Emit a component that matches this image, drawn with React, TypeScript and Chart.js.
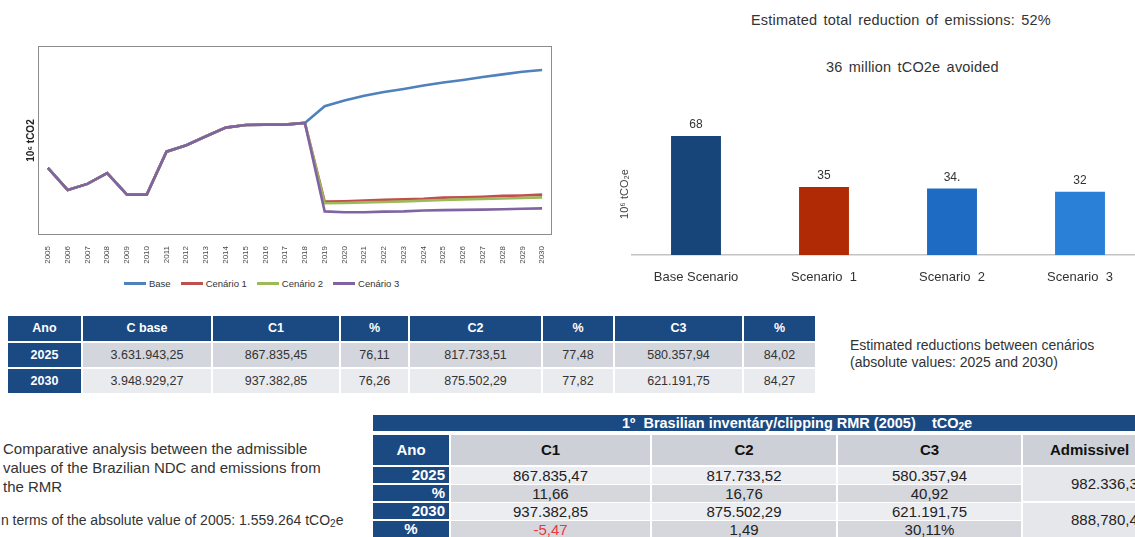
import React, { useEffect, useRef } from 'react';
import { Chart, registerables } from 'chart.js';

Chart.register(...registerables);

// ---------- Line chart data ----------
const years = [
  '2005', '2006', '2007', '2008', '2009', '2010', '2011', '2012', '2013',
  '2014', '2015', '2016', '2017', '2018', '2019', '2020', '2021', '2022',
  '2023', '2024', '2025', '2026', '2027', '2028', '2029', '2030',
];
// 2005–2018, shared by every series (10^6 tCO2)
const historical = [1.56, 1.05, 1.19, 1.44, 0.94, 0.94, 1.94, 2.09, 2.3, 2.5, 2.56, 2.57, 2.57, 2.61];
// 2019–2030
const baseProjection = [3.0, 3.13, 3.24, 3.33, 3.4, 3.48, 3.55, 3.61, 3.68, 3.74, 3.8, 3.84];
const cenario1Projection = [0.78, 0.785, 0.8, 0.82, 0.83, 0.84, 0.87, 0.88, 0.89, 0.91, 0.92, 0.94];
const cenario2Projection = [0.74, 0.745, 0.76, 0.77, 0.78, 0.8, 0.815, 0.83, 0.84, 0.85, 0.86, 0.875];
const cenario3Projection = [0.55, 0.53, 0.53, 0.545, 0.55, 0.57, 0.58, 0.585, 0.59, 0.6, 0.61, 0.62];
const lineSeriesNames = ['Base', 'Cenário 1', 'Cenário 2', 'Cenário 3'];
const lineColors = ['#4F81BD', '#C0504D', '#9BBB59', '#8064A2'];

// ---------- Bar chart data ----------
const scenarioLabels = ['Base Scenario', 'Scenario  1', 'Scenario  2', 'Scenario  3'];
const scenarioValues = [68, 35, 34, 32];
const scenarioValueLabels = ['68', '35', '34.', '32'];
const scenarioColors = ['#174479', '#B02B05', '#1E6BC3', '#2A80D6'];

// ---------- Table 1 data ----------
const table1Header = ['Ano', 'C base', 'C1', '%', 'C2', '%', 'C3', '%'];
const table1Row2025 = ['2025', '3.631.943,25', '867.835,45', '76,11', '817.733,51', '77,48', '580.357,94', '84,02'];
const table1Row2030 = ['2030', '3.948.929,27', '937.382,85', '76,26', '875.502,29', '77,82', '621.191,75', '84,27'];

// ---------- Table 2 data ----------
const table2Header = ['Ano', 'C1', 'C2', 'C3', 'Admissivel'];
const table2Row2025 = ['2025', '867.835,47', '817.733,52', '580.357,94'];
const table2RowPct2025 = ['%', '11,66', '16,76', '40,92'];
const table2Row2030 = ['2030', '937.382,85', '875.502,29', '621.191,75'];
const table2RowPct2030 = ['%', '-5,47', '1,49', '30,11%'];
const table2Admissible = ['982.336,3', '888,780,4'];

const SANS = '"Liberation Sans", Arial, sans-serif';

const plotBorder = {
  id: 'plotBorder',
  beforeDatasetsDraw(chart: any) {
    const { ctx, chartArea: a } = chart;
    ctx.save();
    ctx.strokeStyle = '#8c8c8c';
    ctx.lineWidth = 1;
    ctx.strokeRect(Math.round(a.left) + 0.5, Math.round(a.top) + 0.5, Math.round(a.width) - 1, Math.round(a.height) - 1);
    ctx.restore();
  },
};

function LineChart() {
  const ref = useRef<HTMLCanvasElement>(null);
  useEffect(() => {
    const seriesData = [
      [...historical, ...baseProjection],
      [...historical, ...cenario1Projection],
      [...historical, ...cenario2Projection],
      [...historical, ...cenario3Projection],
    ];
    const chart = new Chart(ref.current as HTMLCanvasElement, {
      type: 'line',
      data: {
        labels: years,
        datasets: lineSeriesNames.map((name, i) => ({
          label: name,
          data: seriesData[i],
          borderColor: lineColors[i],
          backgroundColor: lineColors[i],
          borderWidth: 2.6,
          pointRadius: 0,
          tension: 0,
          order: lineSeriesNames.length - 1 - i,
        })),
      },
      options: {
        responsive: false,
        animation: false,
        devicePixelRatio: 1,
        layout: { padding: { left: 21, right: 18, top: 16, bottom: 4 } },
        plugins: { legend: { display: false }, tooltip: { enabled: false } },
        scales: {
          x: {
            offset: true,
            grid: { display: false },
            border: { display: false },
            ticks: {
              autoSkip: false,
              maxRotation: 90,
              minRotation: 90,
              padding: 3,
              color: '#4a4a4a',
              font: { size: 8, family: SANS },
            },
            afterFit: (s: any) => { s.height = 31; },
          },
          y: {
            min: 0,
            max: 4.4,
            grid: { display: false },
            border: { display: false },
            ticks: { display: false },
            title: {
              display: true,
              text: '10⁶ tCO2',
              color: '#222',
              font: { size: 10, weight: 'bold', family: SANS },
              padding: { top: 4, bottom: 0 },
            },
            afterFit: (s: any) => { s.width = 17; },
          },
        },
      } as any,
      plugins: [plotBorder],
    });
    return () => chart.destroy();
  }, []);
  return <canvas ref={ref} width={570} height={240} style={{ position: 'absolute', left: 0, top: 30 }} />;
}

function LineLegend() {
  return (
    <div style={{ position: 'absolute', left: 124, top: 276, height: 14, display: 'flex', alignItems: 'center', fontFamily: SANS, fontSize: 9.5, color: '#333', whiteSpace: 'nowrap' }}>
      {lineSeriesNames.map((name, i) => (
        <div key={name} style={{ display: 'flex', alignItems: 'center', marginRight: 10 }}>
          <div style={{ width: 22, height: 3, background: lineColors[i], marginRight: 3 }} />
          <span>{name}</span>
        </div>
      ))}
    </div>
  );
}

const barValueLabels = {
  id: 'barValueLabels',
  afterDatasetsDraw(chart: any) {
    const { ctx } = chart;
    const meta = chart.getDatasetMeta(0);
    ctx.save();
    ctx.font = `12px ${SANS}`;
    ctx.fillStyle = '#333';
    ctx.textAlign = 'center';
    ctx.textBaseline = 'bottom';
    meta.data.forEach((el: any, i: number) => {
      ctx.fillText(scenarioValueLabels[i], el.x, el.y - 5);
    });
    ctx.restore();
  },
};

function BarChart() {
  const ref = useRef<HTMLCanvasElement>(null);
  useEffect(() => {
    const chart = new Chart(ref.current as HTMLCanvasElement, {
      type: 'bar',
      data: {
        labels: scenarioLabels,
        datasets: [
          {
            data: scenarioValues,
            backgroundColor: scenarioColors,
            base: -9,
            barPercentage: 0.39,
            categoryPercentage: 1,
          },
        ],
      },
      options: {
        responsive: false,
        animation: false,
        devicePixelRatio: 1,
        layout: { padding: { left: 18, right: 16, top: 33, bottom: 5 } },
        plugins: { legend: { display: false }, tooltip: { enabled: false } },
        scales: {
          x: {
            grid: { display: false },
            border: { display: true, color: '#C4C4C4', width: 1.5 },
            ticks: { padding: 7, color: '#333', font: { size: 13, family: SANS } },
            afterFit: (s: any) => { s.height = 30; },
          },
          y: {
            min: -9,
            max: 70,
            grid: { display: false },
            border: { display: false },
            ticks: { display: false },
            title: {
              display: true,
              text: '10⁶ tCO₂e',
              color: '#444',
              font: { size: 11, family: SANS },
              padding: 0,
            },
            afterFit: (s: any) => { s.width = 14; },
          },
        },
      } as any,
      plugins: [barValueLabels],
    });
    return () => chart.destroy();
  }, []);
  return <canvas ref={ref} width={560} height={190} style={{ position: 'absolute', left: 600, top: 100 }} />;
}

type CellProps = {
  left: number; top: number; width: number; height: number; bg: string; color?: string;
  bold?: boolean; align?: 'left' | 'center' | 'right'; size?: number; pad?: number;
  children?: React.ReactNode;
};
function Cell({ left, top, width, height, bg, color = '#222', bold, align = 'center', size = 14, pad = 0, children }: CellProps) {
  return (
    <div style={{
      position: 'absolute', left, top, width, height, background: bg, color,
      fontWeight: bold ? 'bold' : 'normal', textAlign: align, fontFamily: SANS, fontSize: size,
      lineHeight: `${height}px`, whiteSpace: 'pre', overflow: 'hidden', boxSizing: 'border-box',
      paddingLeft: align === 'left' ? pad : 0, paddingRight: align === 'right' ? pad : 0,
    }}>{children}</div>
  );
}

const DARK = '#1B4982';

function Table1() {
  const colLeft = [8, 83, 213, 341, 410, 543, 615, 744];
  const colRight = [81, 211, 339, 408, 541, 613, 742, 815];
  const rowTop = [316, 343, 369];
  const rowH = [25, 24, 24];
  const rows = [table1Header, table1Row2025, table1Row2030];
  const rowBg = [DARK, '#D3D6DC', '#EAEBEF'];
  const cells: React.ReactNode[] = [];
  rows.forEach((row, r) => {
    row.forEach((txt, c) => {
      const dark = r === 0 || c === 0;
      cells.push(
        <Cell key={`${r}-${c}`} left={colLeft[c]} top={rowTop[r]} width={colRight[c] - colLeft[c]} height={rowH[r]}
          bg={dark ? DARK : rowBg[r]} color={dark ? '#fff' : '#333'} bold={dark} size={12.5}>
          {txt}
        </Cell>,
      );
    });
  });
  return <>{cells}</>;
}

function Table2() {
  const colLeft = [373, 451, 652, 838, 1023];
  const colRight = [449, 650, 836, 1021, 1180];
  const rowTop = [467, 485, 503, 521];
  const rowH = 17;
  const rows = [table2Row2025, table2RowPct2025, table2Row2030, table2RowPct2030];
  const rowBg = ['#ECEDF1', '#D5D7DD', '#ECEDF1', '#D5D7DD'];
  const cells: React.ReactNode[] = [];
  cells.push(
    <Cell key="title" left={373} top={415} width={1180 - 373} height={16} bg={DARK} color="#fff" bold align="left" pad={249} size={14.5}>
      <span>1º  Brasilian inventáry/clipping RMR (2005)    tCO<sub style={{ fontSize: 10, verticalAlign: -2, lineHeight: 0 }}>2</sub>e</span>
    </Cell>,
  );
  table2Header.forEach((txt, c) => {
    cells.push(
      <Cell key={`h${c}`} left={colLeft[c]} top={435} width={colRight[c] - colLeft[c]} height={30}
        bg={c === 0 ? DARK : '#CDD0D7'} color={c === 0 ? '#fff' : '#111'} bold size={15} align={c === 4 ? 'left' : 'center'} pad={27}>
        {txt}
      </Cell>,
    );
  });
  rows.forEach((row, r) => {
    row.forEach((txt, c) => {
      if (c === 0) {
        const centered = r === 3;
        cells.push(
          <Cell key={`${r}-${c}`} left={colLeft[c]} top={rowTop[r]} width={colRight[c] - colLeft[c]} height={rowH - 1}
            bg={DARK} color="#fff" bold size={15} align={centered ? 'center' : 'right'} pad={4}>
            {txt}
          </Cell>,
        );
      } else {
        cells.push(
          <Cell key={`${r}-${c}`} left={colLeft[c]} top={rowTop[r]} width={colRight[c] - colLeft[c]} height={rowH}
            bg={rowBg[r]} color={txt.startsWith('-') ? '#E8393F' : '#222'} size={15}>
            {txt}
          </Cell>,
        );
      }
    });
  });
  table2Admissible.forEach((txt, i) => {
    cells.push(
      <Cell key={`adm${i}`} left={colLeft[4]} top={rowTop[i * 2]} width={colRight[4] - colLeft[4]} height={rowH * 2}
        bg="#E6E7EB" color="#222" size={15} align="left" pad={48}>
        {txt}
      </Cell>,
    );
  });
  return <>{cells}</>;
}

export default function App() {
  const text: React.CSSProperties = { position: 'absolute', fontFamily: SANS, color: '#333', whiteSpace: 'nowrap' };
  const heading: React.CSSProperties = { ...text, fontSize: 14.5, lineHeight: '18px', wordSpacing: 2, letterSpacing: 0.2 };
  return (
    <div style={{ position: 'absolute', left: 0, top: 0, width: 1135, height: 537, overflow: 'hidden', background: '#fff' }}>
      <LineChart />
      <LineLegend />
      <BarChart />
      <div style={{ ...heading, left: 751, top: 11 }}>Estimated total reduction of emissions: 52%</div>
      <div style={{ ...heading, left: 826, top: 58 }}>36 million tCO2e avoided</div>
      <Table1 />
      <div style={{ ...text, left: 850, top: 337, fontSize: 14, lineHeight: '17px' }}>
        Estimated reductions between cenários<br />(absolute values: 2025 and 2030)
      </div>
      <div style={{ ...text, left: 3, top: 439, fontSize: 15, lineHeight: '19px' }}>
        Comparative analysis between the admissible<br />values of the Brazilian NDC and emissions from<br />the RMR
      </div>
      <div style={{ ...text, left: -3, top: 512, fontSize: 14, lineHeight: '16px' }}>
        In terms of the absolute value of 2005: 1.559.264 tCO<sub style={{ fontSize: 10, verticalAlign: -2, lineHeight: 0 }}>2</sub>e
      </div>
      <Table2 />
    </div>
  );
}
